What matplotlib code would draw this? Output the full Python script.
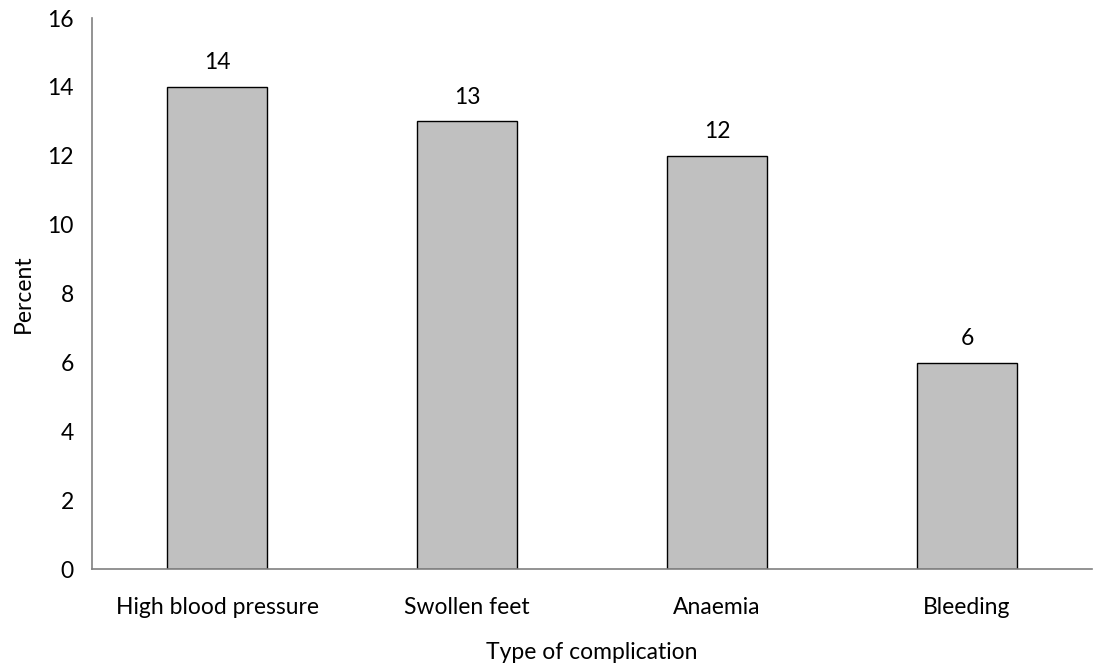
import matplotlib.pyplot as plt
import numpy as np

plt.rcParams['font.family'] = ['Lato', 'DejaVu Sans']

categories = ["High blood pressure", "Swollen feet", "Anaemia", "Bleeding"]
percent = [14, 13, 12, 6]
yticks = [0, 2, 4, 6, 8, 10, 12, 14, 16]

fig = plt.figure(figsize=(11.02, 6.69), dpi=100)
ax = fig.add_axes([0.0835, 0.149, 0.9075, 0.824])

x = np.arange(len(categories))
bars = ax.bar(x, percent, width=0.4, color="#c0c0c0", edgecolor="black", linewidth=1)

for xi, v in zip(x, percent):
    ax.text(xi, v + 0.4, str(v), ha="center", va="bottom", fontsize=16.5)

ax.set_xlim(-0.5, 3.5)
ax.set_ylim(0, 16)
ax.set_yticks(yticks)
ax.set_xticks(x)
ax.set_xticklabels(categories)
ax.tick_params(length=0, labelsize=16.5)
ax.tick_params(axis="x", pad=20)
ax.tick_params(axis="y", pad=13)

for s in ["top", "right"]:
    ax.spines[s].set_visible(False)
for s in ["left", "bottom"]:
    ax.spines[s].set_color("#808080")
    ax.spines[s].set_linewidth(1.2)

ax.set_xlabel("Type of complication", fontsize=16.5, labelpad=17)
ax.set_ylabel("Percent", fontsize=16.5, labelpad=10)

fig.savefig("out.png", dpi=100)
